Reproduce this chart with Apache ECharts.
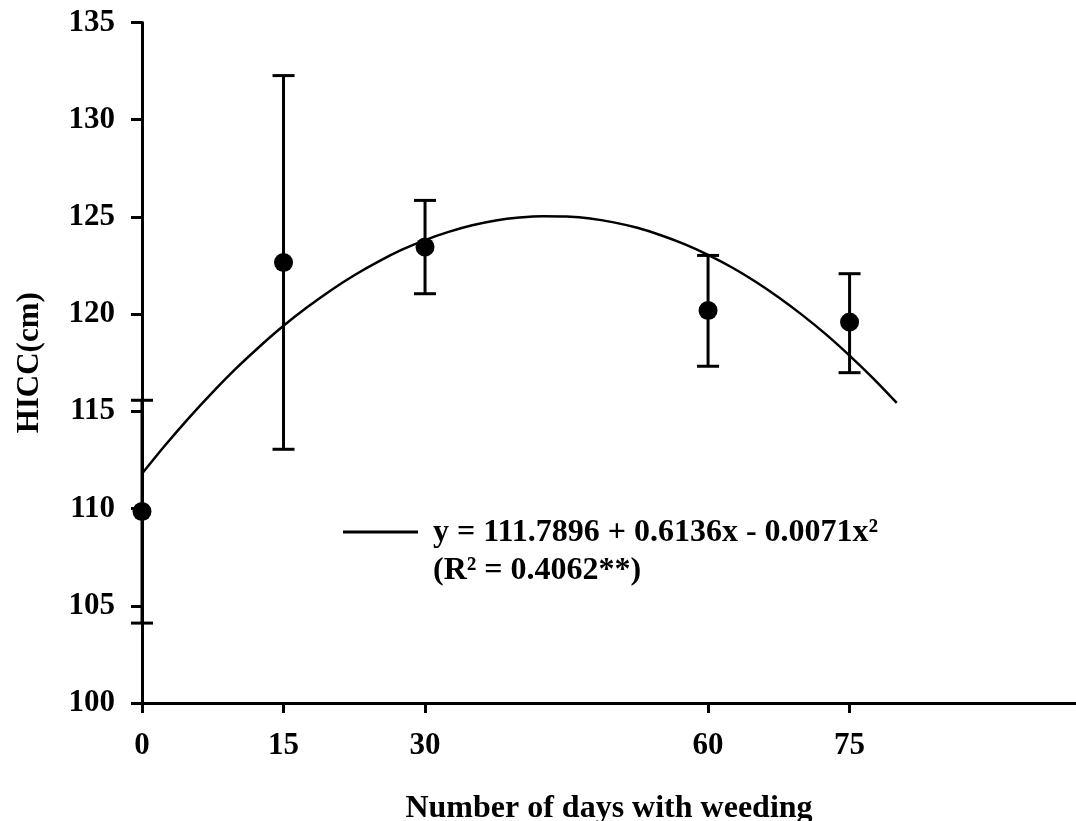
<!DOCTYPE html>
<html>
<head>
<meta charset="utf-8">
<script src="https://cdn.jsdelivr.net/npm/echarts@6/dist/echarts.min.js"></script>
<style>html,body{margin:0;padding:0;background:#fff;}#c{width:1076px;height:821px;}</style>
</head>
<body>
<div id="c"></div>
<script>
// Observed means and error bars
const days = [0, 15, 30, 60, 75];
const hicc = [109.85, 122.66, 123.45, 120.19, 119.59];
const errLow = [104.11, 113.05, 121.05, 117.32, 116.99];
const errHigh = [115.57, 132.27, 125.85, 123.02, 122.08];
// Fitted curve
const curveX = [0, 2.5, 5, 7.5, 10, 12.5, 15, 17.5, 20, 22.5, 25, 27.5, 30, 32.5, 35, 37.5, 40, 42.5, 45, 47.5, 50, 52.5, 55, 57.5, 60, 62.5, 65, 67.5, 70, 72.5, 75, 77.5, 80];
const curveY = [111.79, 113.28, 114.68, 115.99, 117.22, 118.35, 119.40, 120.35, 121.22, 122.00, 122.69, 123.30, 123.81, 124.23, 124.57, 124.82, 124.97, 125.04, 125.02, 124.92, 124.72, 124.44, 124.06, 123.60, 123.05, 122.41, 121.68, 120.86, 119.95, 118.96, 117.87, 116.70, 115.44];
const xTicks = [0, 15, 30, 60, 75];
const eqLine1 = 'y = 111.7896 + 0.6136x - 0.0071x²';
const eqLine2 = '(R² = 0.4062**)';

const FONT = '"Liberation Serif", "Times New Roman", serif';
const chart = echarts.init(document.getElementById('c'), null, {renderer: 'canvas'});
const option = {
  backgroundColor: '#ffffff',
  animation: false,
  grid: {left: 142, top: 22.5, bottom: 118, right: 0, containLabel: false, outerBoundsMode: 'none'},
  xAxis: {
    type: 'value', min: 0, max: 99,
    name: 'Number of days with weeding', nameLocation: 'middle', nameGap: 90,
    nameTextStyle: {fontFamily: FONT, fontWeight: 'bold', fontSize: 32, color: '#000'},
    axisLine: {show: true, onZero: false, lineStyle: {color: '#000', width: 3}},
    axisTick: {show: true, inside: false, length: 10, customValues: xTicks, lineStyle: {color: '#000', width: 3}},
    axisLabel: {customValues: xTicks, margin: 27, fontFamily: FONT, fontWeight: 'bold', fontSize: 31, color: '#000'},
    splitLine: {show: false}
  },
  yAxis: {
    type: 'value', min: 100, max: 135, interval: 5,
    name: 'HICC(cm)', nameLocation: 'middle', nameGap: 97,
    nameTextStyle: {fontFamily: FONT, fontWeight: 'bold', fontSize: 31, color: '#000'},
    axisLine: {show: true, onZero: false, lineStyle: {color: '#000', width: 3}},
    axisTick: {show: true, inside: false, length: 11, lineStyle: {color: '#000', width: 3}},
    axisLabel: {margin: 27, fontFamily: FONT, fontWeight: 'bold', fontSize: 31, color: '#000'},
    splitLine: {show: false}
  },
  series: [
    {
      type: 'line', name: 'fit', smooth: 0.3, showSymbol: false, silent: true, z: 3,
      data: curveX.map((x, i) => [x, curveY[i]]),
      lineStyle: {color: '#000', width: 2.5}
    },
    {
      type: 'custom', name: 'error', z: 4,
      data: days.map((d, i) => [d, errLow[i], errHigh[i]]),
      renderItem: function (params, api) {
        const x = api.value(0);
        const lo = api.coord([x, api.value(1)]);
        const hi = api.coord([x, api.value(2)]);
        const hw = 11;
        const st = {stroke: '#000', lineWidth: 3};
        return {
          type: 'group',
          children: [
            {type: 'line', shape: {x1: lo[0], y1: lo[1], x2: hi[0], y2: hi[1]}, style: st},
            {type: 'line', shape: {x1: lo[0] - hw, y1: lo[1], x2: lo[0] + hw, y2: lo[1]}, style: st},
            {type: 'line', shape: {x1: hi[0] - hw, y1: hi[1], x2: hi[0] + hw, y2: hi[1]}, style: st}
          ]
        };
      }
    },
    {
      type: 'scatter', name: 'HICC', z: 5, symbol: 'circle', symbolSize: 19,
      data: days.map((d, i) => [d, hicc[i]]),
      itemStyle: {color: '#000', opacity: 1}
    }
  ],
  graphic: [
    {type: 'line', shape: {x1: 343, y1: 532, x2: 418, y2: 532}, style: {stroke: '#000', lineWidth: 3}},
    {type: 'text', x: 433, y: 533, style: {text: eqLine1, font: 'bold 32px ' + FONT, fill: '#000', textVerticalAlign: 'middle', verticalAlign: 'middle'}},
    {type: 'text', x: 433, y: 571, style: {text: eqLine2, font: 'bold 32px ' + FONT, fill: '#000', textVerticalAlign: 'middle', verticalAlign: 'middle'}}
  ]
};
chart.setOption(option);
</script>
</body>
</html>
